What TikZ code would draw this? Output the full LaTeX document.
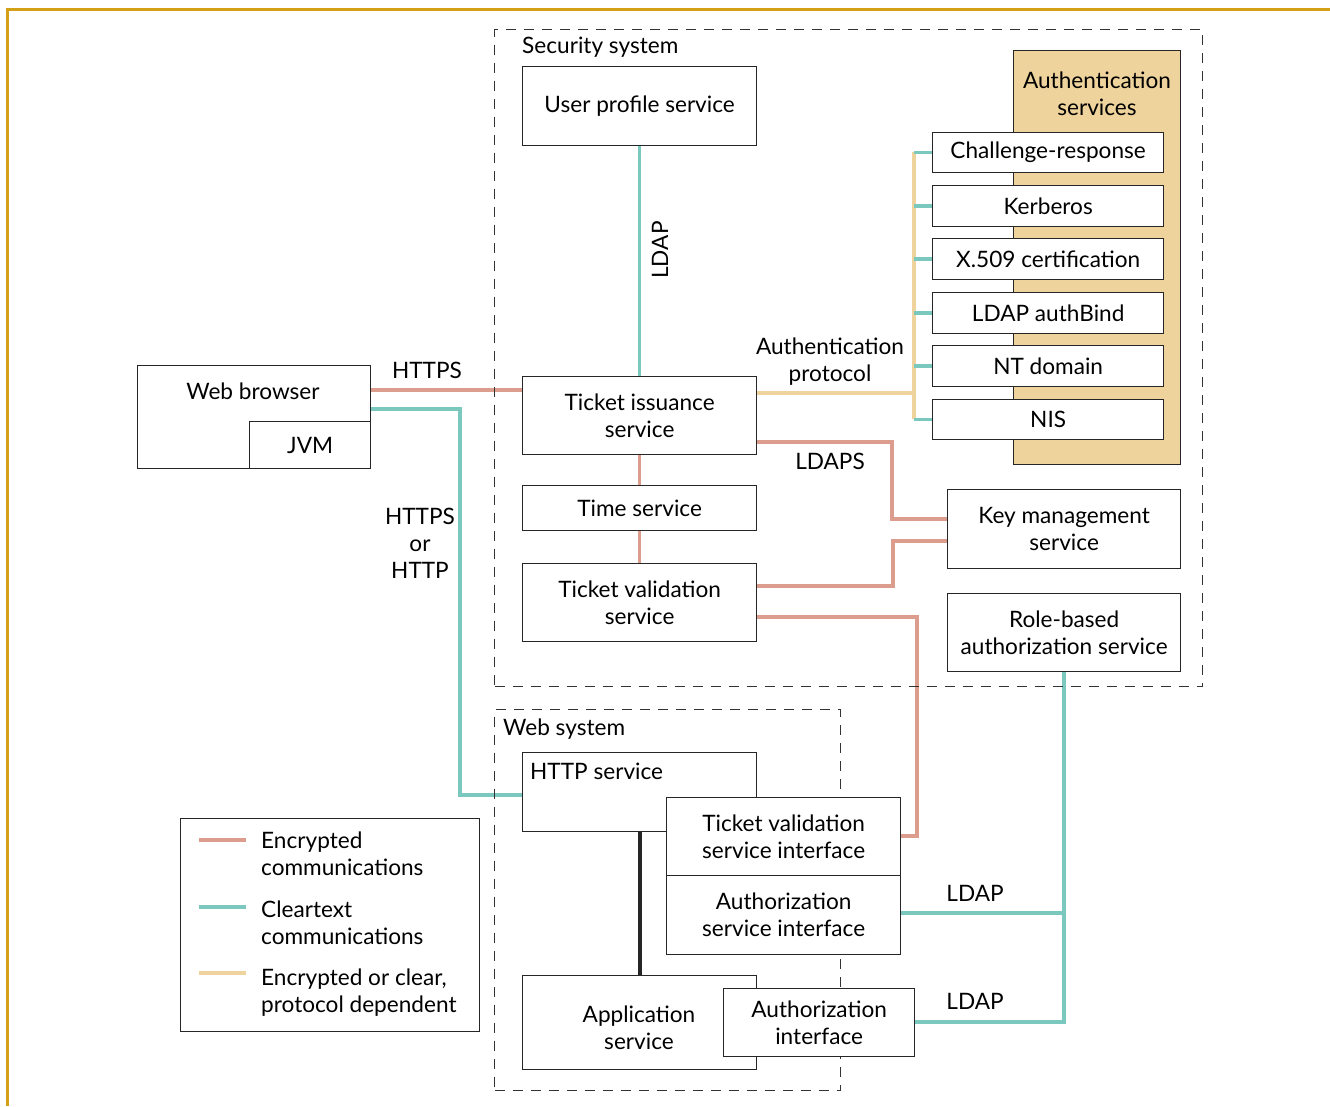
\documentclass[tikz,border=0pt]{standalone}
\usepackage{fontspec}
\setmainfont{Lato}
\definecolor{pinkc}{RGB}{220,156,142}
\definecolor{tealc}{RGB}{122,200,190}
\definecolor{tanc}{RGB}{238,211,156}
\definecolor{goldc}{RGB}{212,160,23}
\pgfdeclarelayer{background}
\pgfsetlayers{background,main}
\begin{document}
\begin{tikzpicture}[x=1pt,y=-1pt,
  every node/.style={font=\fontsize{22.6}{27}\selectfont},
  box/.style={draw=black!85,line width=1.3pt,fill=white,inner sep=2pt,align=center,anchor=north west},
  lbl/.style={inner sep=0pt,align=center},
  enc/.style={pinkc,line width=3.5pt},
  clr/.style={tealc,line width=3.5pt},
  dep/.style={tanc,line width=3.5pt},
  sysbox/.style={draw=black!80,line width=1.4pt,dash pattern=on 10pt off 8pt}]
\useasboundingbox (0,0) rectangle (1330,1106);
% frame
\draw[goldc,line width=3pt] (7,1106) -- (7,9) -- (1330,9);
% dashed systems
\node[sysbox,minimum width=708pt,minimum height=657pt,anchor=north west,inner sep=0pt] (secsys) at (494,29) {};
\node[sysbox,minimum width=346pt,minimum height=381pt,anchor=north west,inner sep=0pt] (websys) at (494,709) {};
\node[lbl,anchor=west] (seclbl) at (522,47) {Security system};
\node[lbl,anchor=west] (weblbl) at (503,729) {Web system};
% authentication services background
\node[box,fill=tanc,minimum width=167pt,minimum height=414pt] (auth) at (1013,50) {};
\node[lbl] (authlbl) at (1097,94) {Authentication\\services};
% boxes
\node[box,minimum width=234pt,minimum height=79pt] (ups) at (522,66) {User profile service};
\node[box,minimum width=234pt,minimum height=78pt] (tis) at (522,376) {Ticket issuance\\service};
\node[box,minimum width=234pt,minimum height=45pt] (ts) at (522,485) {Time service};
\node[box,minimum width=234pt,minimum height=78pt] (tvs) at (522,563) {Ticket validation\\service};
\node[box,minimum width=231pt,minimum height=40pt] (cr) at (932,132) {Challenge-response};
\node[box,minimum width=231pt,minimum height=41pt] (kb) at (932,185) {Kerberos};
\node[box,minimum width=231pt,minimum height=41pt] (x5) at (932,238) {X.509 certification};
\node[box,minimum width=231pt,minimum height=41pt] (la) at (932,292) {LDAP authBind};
\node[box,minimum width=231pt,minimum height=41pt] (nt) at (932,345) {NT domain};
\node[box,minimum width=231pt,minimum height=40pt] (nis) at (932,399) {NIS};
\node[box,minimum width=233pt,minimum height=79pt] (kms) at (947,489) {Key management\\service};
\node[box,minimum width=233pt,minimum height=78pt] (rba) at (947,593) {Role-based\\authorization service};
\node[box,minimum width=233pt,minimum height=103pt] (wb) at (137,365) {};
\node[lbl] (wblbl) at (253,391) {Web browser};
\node[box,minimum width=121pt,minimum height=47pt] (jvm) at (249,421) {JVM};
% web system boxes
\node[box,minimum width=234pt,minimum height=79pt] (http) at (522,752) {};
\node[lbl,anchor=west] (httplbl) at (530,771) {HTTP service};
\node[box,minimum width=234pt,minimum height=78pt] (tvsi) at (666,797) {Ticket validation\\service interface};
\node[box,minimum width=234pt,minimum height=79pt] (asi) at (666,875) {Authorization\\service interface};
\node[box,minimum width=234pt,minimum height=94pt] (app) at (522,975) {};
\node[lbl] (applbl) at (639,1028) {Application\\service};
\node[box,minimum width=191pt,minimum height=68pt] (ai) at (723,988) {Authorization\\interface};
% labels
\node[lbl,rotate=90] (ldap1) at (660,250) {LDAP};
\node[lbl] (https) at (427,370) {HTTPS};
\node[lbl] (httpsor) at (420,543) {HTTPS\\or\\HTTP};
\node[lbl] (aplbl) at (830,362) {Authentication\\protocol};
\node[lbl] (ldaps) at (830,461) {LDAPS};
\node[lbl] (ldap2) at (975,893) {LDAP};
\node[lbl] (ldap3) at (975,1001) {LDAP};
% connectors behind boxes
\begin{pgfonlayer}{background}
\draw[clr] (ups.south) -- (tis.north);
\draw[enc] (tis.south) -- (ts.north);
\draw[enc] (ts.south) -- (tvs.north);
\draw[enc] (wb.east |- 0,390) -- (tis.west |- 0,390);
\draw[clr] (wb.east |- 0,409) -- (460,409) -- (460,795) -- (http.west |- 0,795);
\coordinate (bus) at (914,393);
\draw[dep] (tis.east |- 0,393) -- (bus);
\draw[dep] (914,152) -- (914,419);
\foreach \n in {cr,kb,x5,la,nt,nis}{\draw[clr] (914,0 |- \n.west) -- (\n.west);}
\draw[enc] (tis.east |- 0,442) -- (892,442) -- (892,519) -- (kms.west |- 0,519);
\draw[enc] (tvs.east |- 0,586) -- (893,586) -- (893,541) -- (kms.west |- 0,541);
\draw[enc] (tvs.east |- 0,617) -- (917,617) -- (917,836) -- (tvsi.east |- 0,836);
\draw[clr] (rba.south -| 1064,0) -- (1064,1022) -- (ai.east |- 0,1022);
\draw[clr] (1064,913) -- (asi.east |- 0,913);
\draw[black!85,line width=4pt] (http.south) -- (app.north);
\end{pgfonlayer}
% legend
\node[draw=black!85,line width=1.3pt,minimum width=299pt,minimum height=213pt,anchor=north west,inner sep=0pt] (legend) at (180,818) {};
\coordinate (l1a) at (199,840); \coordinate (l1b) at (246,840);
\coordinate (l2a) at (199,907); \coordinate (l2b) at (246,907);
\coordinate (l3a) at (199,973); \coordinate (l3b) at (246,973);
\draw[enc] (l1a) -- (l1b);
\draw[clr] (l2a) -- (l2b);
\draw[dep] (l3a) -- (l3b);
\node[lbl,anchor=west,align=left] (lt1) at (261,854) {Encrypted\\communications};
\node[lbl,anchor=west,align=left] (lt2) at (261,923) {Cleartext\\communications};
\node[lbl,anchor=west,align=left] (lt3) at (261,993) {Encrypted or clear,\\protocol dependent};
\end{tikzpicture}
\end{document}
